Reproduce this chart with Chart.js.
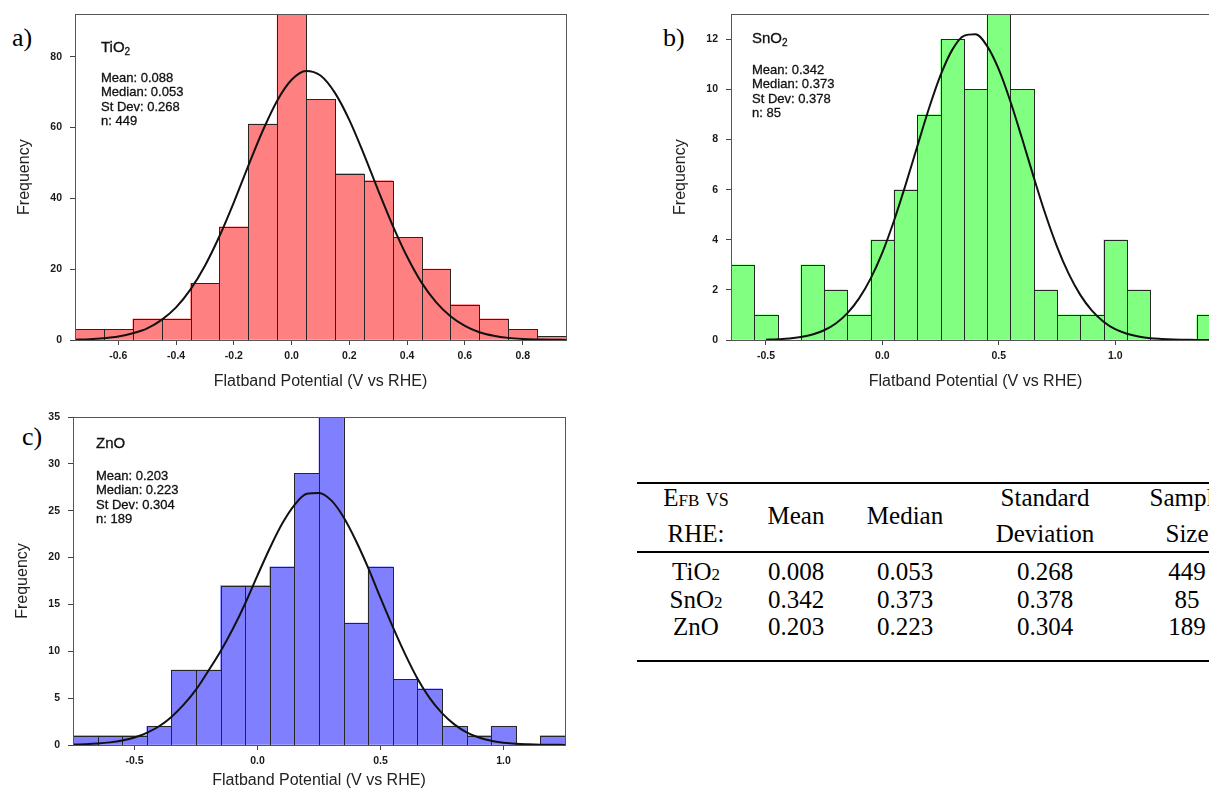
<!DOCTYPE html>
<html>
<head>
<meta charset="utf-8">
<title>Flatband potential distributions</title>
<script src="https://cdn.jsdelivr.net/npm/chart.js@4.4.1/dist/chart.umd.min.js"></script>
<style>
  html, body { margin: 0; padding: 0; background: #fff; }
  body { position: relative; width: 1209px; height: 790px; overflow: hidden; }
  canvas { position: absolute; display: block; }
  .tag { position: absolute; font: 26px "Liberation Serif", "Times New Roman", serif; color: #000; line-height: 30px; }
  .cell { position: absolute; font: 25px "Liberation Serif", "Times New Roman", serif; color: #000;
          line-height: 28px; height: 28px; white-space: nowrap; transform: translateX(-50%); }
  .rule { position: absolute; left: 637px; width: 640px; height: 2px; background: #000; }
  .sc { font-size: 17px; }
  .vs { font-variant: small-caps; }
  .sub { font-size: 17px; }
</style>
</head>
<body>
<div class="tag" style="left:12px;top:23px">a)</div>
<div class="tag" style="left:663px;top:23px">b)</div>
<div class="tag" style="left:22px;top:422px">c)</div>
<canvas id="chartA" width="600" height="395" style="left:0;top:0"></canvas>
<canvas id="chartB" width="600" height="395" style="left:640px;top:0"></canvas>
<canvas id="chartC" width="600" height="390" style="left:0;top:400px"></canvas>
<div id="table"></div>
<script>
// ---- TiO2 histogram (bin centres, counts) and fitted curve ----
const binsA   = [-0.7,-0.6,-0.5,-0.4,-0.3,-0.2,-0.1,0.0,0.1,0.2,0.3,0.4,0.5,0.6,0.7,0.8,0.9];
const countsA = [3,3,6,6,16,32,61,92,68,47,45,29,20,10,6,3,1];
const fitXA = [-0.75,-0.70,-0.65,-0.60,-0.55,-0.50,-0.45,-0.40,-0.35,-0.30,-0.25,-0.20,-0.15,-0.10,-0.05,
               0.00,0.05,0.10,0.15,0.20,0.25,0.30,0.35,0.40,0.45,0.50,0.55,0.60,0.65,0.70,0.75,0.80,0.85,0.90,0.95];
const fitYA = [0.1,0.2,0.5,1.0,1.9,3.3,5.7,9.2,14.3,21.0,29.3,38.9,49.2,59.1,67.6,
               73.5,76.0,74.7,69.8,62.1,52.5,42.2,32.3,23.5,16.2,10.7,6.7,4.0,2.2,1.2,0.6,0.3,0.15,0.06,0.03];
const xTicksA = [-0.6,-0.4,-0.2,0.0,0.2,0.4,0.6,0.8];
const yTicksA = [0,20,40,60,80];

// ---- SnO2 ----
const binsB   = [-0.6,-0.5,-0.4,-0.3,-0.2,-0.1,0.0,0.1,0.2,0.3,0.4,0.5,0.6,0.7,0.8,0.9,1.0,1.1,1.2,1.3,1.4];
const countsB = [3,1,0,3,2,1,4,6,9,12,10,13,10,2,1,1,4,2,0,0,1];
const fitXB = [-0.50,-0.45,-0.40,-0.35,-0.30,-0.25,-0.20,-0.15,-0.10,-0.05,0.00,0.05,0.10,0.15,0.20,0.25,0.30,0.35,0.40,0.45,
               0.50,0.55,0.60,0.65,0.70,0.75,0.80,0.85,0.90,0.95,1.00,1.05,1.10,1.15,1.20,1.25,1.30,1.35,1.40,1.45];
const fitYB = [0.01,0.03,0.06,0.12,0.22,0.39,0.66,1.07,1.66,2.46,3.49,4.76,6.20,7.73,9.24,10.57,11.58,12.14,12.20,11.73,
               10.80,9.52,8.04,6.50,5.03,3.73,2.65,1.80,1.17,0.73,0.43,0.25,0.14,0.07,0.04,0.02,0.01,0,0,0];
const xTicksB = [-0.5,0.0,0.5,1.0];
const yTicksB = [0,2,4,6,8,10,12];

// ---- ZnO ----
const binsC   = [-0.7,-0.6,-0.5,-0.4,-0.3,-0.2,-0.1,0.0,0.1,0.2,0.3,0.4,0.5,0.6,0.7,0.8,0.9,1.0,1.1,1.2];
const countsC = [1,1,1,2,8,8,17,17,19,29,35,13,19,7,6,2,1,2,0,1];
const fitXC = [-0.75,-0.70,-0.65,-0.60,-0.55,-0.50,-0.45,-0.40,-0.35,-0.30,-0.25,-0.20,-0.15,-0.10,-0.05,
               0.00,0.05,0.10,0.15,0.20,0.25,0.30,0.35,0.40,0.45,0.50,0.55,0.60,0.65,0.70,0.75,0.80,0.85,0.90,0.95,
               1.00,1.05,1.10,1.15,1.20,1.25];
const fitYC = [0.05,0.09,0.16,0.28,0.48,0.8,1.3,2.0,3.0,4.3,5.9,7.9,10.0,12.4,15.1,
               18.1,21.0,23.6,25.6,26.8,26.9,26.1,24.3,21.8,18.9,15.7,12.6,9.7,7.1,5.0,3.4,2.2,1.35,0.8,0.45,
               0.25,0.13,0.07,0.03,0.02,0.01];
const xTicksC = [-0.5,0.0,0.5,1.0];
const yTicksC = [0,5,10,15,20,25,30,35];

// ---- summary statistics ----
const materialBase = ['TiO','SnO','ZnO'];
const materialSub  = ['2','2',''];
const statMeans    = [0.088,0.342,0.203];
const tableMeans   = [0.008,0.342,0.203];
const statMedians  = [0.053,0.373,0.223];
const statStDevs   = [0.268,0.378,0.304];
const sampleSizes  = [449,85,189];

const SANS = '"Liberation Sans", Arial, Helvetica, sans-serif';
Chart.defaults.font.family = SANS;

// Outlines every non-empty bar with a 1px stroke so neighbouring bars share one edge,
// then frames the whole plot area.
const outlinePlugin = {
  id: 'outlines',
  afterDatasetDraw(chart, args) {
    if (args.meta.type !== 'bar') return;
    const ctx = chart.ctx;
    const data = chart.data.datasets[args.index].data;
    ctx.save();
    ctx.strokeStyle = '#262626';
    ctx.lineWidth = 1;
    args.meta.data.forEach((el, i) => {
      if (!data[i].y) return;
      const p = el.getProps(['x', 'y', 'base', 'width'], true);
      const l = Math.round(p.x - p.width / 2) + 0.5;
      const r = Math.round(p.x + p.width / 2) + 0.5;
      const t = Math.round(p.y) + 0.5;
      const b = Math.round(p.base) + 0.5;
      ctx.strokeRect(l, t, r - l, b - t);
    });
    ctx.restore();
  },
  afterDatasetsDraw(chart) {
    const {ctx, chartArea: a} = chart;
    ctx.save();
    ctx.strokeStyle = '#555';
    ctx.lineWidth = 1;
    ctx.strokeRect(Math.round(a.left) + 0.5, Math.round(a.top) + 0.5,
                   Math.round(a.right) - Math.round(a.left), Math.round(a.bottom) - Math.round(a.top));
    ctx.restore();
  }
};

// Material name and its summary statistics in the upper-left corner of the plot.
const statsPlugin = {
  id: 'statsBox',
  afterDraw(chart, args, o) {
    if (!o || !o.base) return;
    const {ctx, chartArea: a} = chart;
    const x = a.left + o.dx, y = a.top + o.dy;
    const put = (t, px, py) => { ctx.fillText(t, px, py); ctx.strokeText(t, px, py); };
    ctx.save();
    ctx.fillStyle = '#111';
    ctx.strokeStyle = '#111';
    ctx.lineWidth = 0.3;
    ctx.textAlign = 'left';
    ctx.textBaseline = 'middle';
    ctx.font = '15px ' + SANS;
    put(o.base, x, y);
    if (o.sub) {
      const w = ctx.measureText(o.base).width;
      ctx.font = '10px ' + SANS;
      put(o.sub, x + w, y + 4);
    }
    ctx.font = '13px ' + SANS;
    o.lines.forEach((t, i) => put(t, x, y + o.gap + i * o.step));
    ctx.restore();
  }
};

function statLines(i) {
  return ['Mean: ' + statMeans[i].toFixed(3),
          'Median: ' + statMedians[i].toFixed(3),
          'St Dev: ' + statStDevs[i].toFixed(3),
          'n: ' + sampleSizes[i]];
}

const tickFont = {size: 10.5, weight: 'bold'};
const titleFont = {size: 16};

function histogram(id, o) {
  return new Chart(document.getElementById(id), {
    type: 'bar',
    data: {
      datasets: [
        {
          type: 'line',
          label: 'Gaussian fit',
          data: o.fitX.map((x, i) => ({x, y: o.fitY[i]})),
          borderColor: '#111',
          borderWidth: 2,
          pointRadius: 0,
          cubicInterpolationMode: 'monotone',
          clip: {left: 0, top: 0, right: 0, bottom: 2},
          order: 0
        },
        {
          type: 'bar',
          label: 'Frequency',
          data: o.bins.map((x, i) => ({x, y: o.counts[i]})),
          backgroundColor: o.color,
          borderWidth: 0,
          barPercentage: 1,
          categoryPercentage: 1,
          order: 1
        }
      ]
    },
    options: {
      responsive: false,
      animation: false,
      devicePixelRatio: 1,
      events: [],
      layout: {padding: o.padding},
      plugins: {
        legend: {display: false},
        tooltip: {enabled: false},
        statsBox: o.stats
      },
      scales: {
        x: {
          type: 'linear',
          min: o.xMin,
          max: o.xMax,
          offset: false,
          afterBuildTicks: s => { s.ticks = o.xTicks.map(v => ({value: v})); },
          afterFit: s => { s.height = o.xHeight; },
          grid: {offset: false, drawOnChartArea: false, tickLength: 5, color: '#444'},
          border: {display: false},
          ticks: {callback: v => Number(v).toFixed(1), padding: 5, font: tickFont, color: '#1a1a1a',
                  maxRotation: 0, autoSkip: false},
          title: {display: true, text: 'Flatband Potential (V vs RHE)', font: titleFont, color: '#222',
                  padding: {top: 0, bottom: 0}}
        },
        y: {
          type: 'linear',
          min: 0,
          max: o.yMax,
          afterBuildTicks: s => { s.ticks = o.yTicks.map(v => ({value: v})); },
          afterFit: s => { s.width = o.yWidth; },
          grid: {drawOnChartArea: false, tickLength: 5, color: '#444'},
          border: {display: false},
          ticks: {callback: v => String(v), padding: 8, font: tickFont, color: '#1a1a1a', autoSkip: false},
          title: {display: true, text: 'Frequency', font: titleFont, color: '#222',
                  padding: {top: 4, bottom: 0}}
        }
      }
    },
    plugins: [outlinePlugin, statsPlugin]
  });
}

histogram('chartA', {
  bins: binsA, counts: countsA, fitX: fitXA, fitY: fitYA, xTicks: xTicksA, yTicks: yTicksA,
  xMin: -0.75, xMax: 0.95, yMax: 92, color: 'rgb(255,128,128)',
  padding: {left: 11, top: 13, right: 34, bottom: 4}, yWidth: 64, xHeight: 51,
  stats: {base: materialBase[0], sub: materialSub[0], lines: statLines(0), dx: 26, dy: 34, gap: 30, step: 14.5}
});

histogram('chartB', {
  bins: binsB, counts: countsB, fitX: fitXB, fitY: fitYB, xTicks: xTicksB, yTicks: yTicksB,
  xMin: -0.65, xMax: 1.45, yMax: 13, color: 'rgb(128,255,128)',
  padding: {left: 27, top: 13, right: 20, bottom: 4}, yWidth: 64, xHeight: 51,
  stats: {base: materialBase[1], sub: materialSub[1], lines: statLines(1), dx: 21, dy: 25, gap: 31, step: 14.5}
});

histogram('chartC', {
  bins: binsC, counts: countsC, fitX: fitXC, fitY: fitYC, xTicks: xTicksC, yTicks: yTicksC,
  xMin: -0.75, xMax: 1.25, yMax: 35, color: 'rgb(128,128,255)',
  padding: {left: 9, top: 17, right: 35, bottom: 0}, yWidth: 64, xHeight: 45,
  stats: {base: materialBase[2], sub: materialSub[2], lines: statLines(2), dx: 23, dy: 27, gap: 32, step: 14.5}
});

// ---- summary table ----
(function buildTable() {
  const host = document.getElementById('table');
  const colX = [696, 796, 905, 1045, 1187];
  const rowY = [572, 600, 627];
  let html = '';
  const cell = (x, y, content) => {
    html += '<div class="cell" style="left:' + x + 'px;top:' + (y - 14) + 'px">' + content + '</div>';
  };
  html += '<div class="rule" style="top:482px"></div>';
  html += '<div class="rule" style="top:551px"></div>';
  html += '<div class="rule" style="top:660px"></div>';
  cell(colX[0], 498, 'E<span class="sc">FB</span> <span class="vs">vs</span>');
  cell(colX[0], 534, 'RHE:');
  cell(colX[1], 516, 'Mean');
  cell(colX[2], 516, 'Median');
  cell(colX[3], 498, 'Standard');
  cell(colX[3], 534, 'Deviation');
  cell(colX[4], 498, 'Sample');
  cell(colX[4], 534, 'Size');
  materialBase.forEach((m, i) => {
    const name = m + (materialSub[i] ? '<span class="sub">' + materialSub[i] + '</span>' : '');
    cell(colX[0], rowY[i], name);
    cell(colX[1], rowY[i], tableMeans[i].toFixed(3));
    cell(colX[2], rowY[i], statMedians[i].toFixed(3));
    cell(colX[3], rowY[i], statStDevs[i].toFixed(3));
    cell(colX[4], rowY[i], String(sampleSizes[i]));
  });
  host.innerHTML = html;
})();
</script>
</body>
</html>
